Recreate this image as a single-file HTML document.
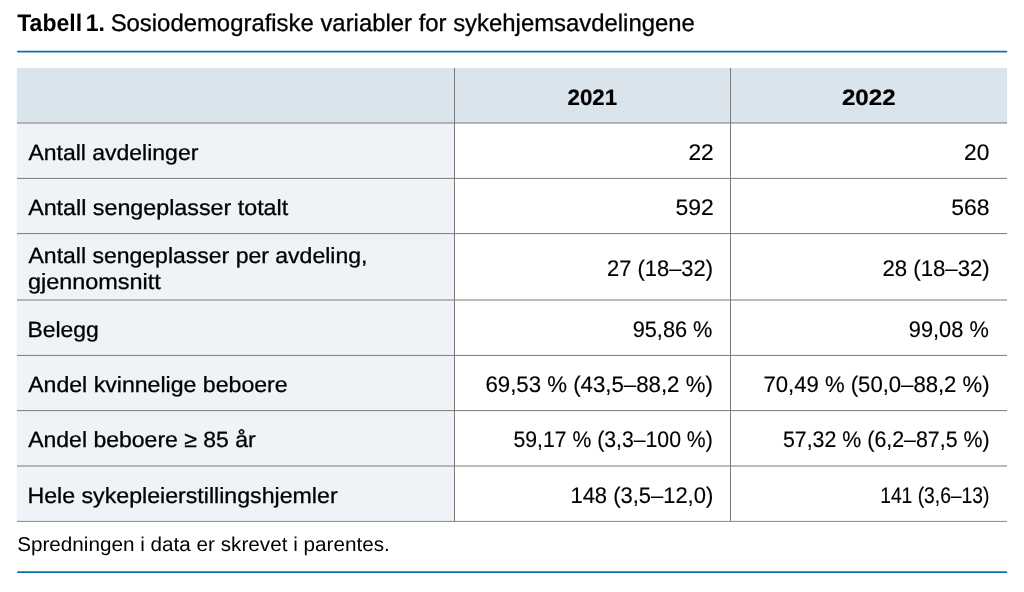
<!DOCTYPE html>
<html lang="no">
<head>
<meta charset="utf-8">
<title>Tabell 1. Sosiodemografiske variabler for sykehjemsavdelingene</title>
<style>
html,body{margin:0;padding:0;background:#fff;}
body{width:1024px;height:592px;position:relative;overflow:hidden;font-family:"Liberation Sans",sans-serif;color:#000;text-rendering:geometricPrecision;}
.grid{position:absolute;left:0;top:0;width:1024px;height:592px;display:block;}
.t{position:absolute;left:0;margin:0;padding:0;white-space:nowrap;line-height:28px;height:28px;transform-origin:0 0;font-weight:400;}
.b{font-weight:700;}
h1{margin:0;padding:0;font-size:0;line-height:0;font-weight:400;}
[role=table],[role=row]{margin:0;padding:0;font-size:0;line-height:0;}

</style>
</head>
<body>
<svg class="grid" aria-hidden="true" width="1024" height="592" viewBox="0 0 1024 592">
<rect x="16.8" y="67.9" width="990.3" height="55.1" fill="#dae4ec"/>
<rect x="16.8" y="123" width="437.7" height="398.4" fill="#eff2f7"/>
<g stroke="#7a7a7a" stroke-width="1" fill="none">
<line x1="17" y1="123" x2="1007" y2="123" stroke-width="1.1" stroke="#737a82"/>
<line x1="17" y1="178.4" x2="1007" y2="178.4"/>
<line x1="17" y1="233.6" x2="1007" y2="233.6"/>
<line x1="17" y1="300" x2="1007" y2="300" stroke-width="1.1"/>
<line x1="17" y1="355.4" x2="1007" y2="355.4"/>
<line x1="17" y1="410.6" x2="1007" y2="410.6"/>
<line x1="17" y1="466" x2="1007" y2="466" stroke-width="1.1"/>
<line x1="17" y1="521.4" x2="1007" y2="521.4" stroke="#888"/>
<line x1="454.5" y1="68" x2="454.5" y2="521.4"/>
<line x1="730.5" y1="68" x2="730.5" y2="521.4"/>
</g>
<g stroke="#0b72b0" stroke-width="1.8" stroke-linecap="round" fill="none">
<line x1="17.9" y1="51.6" x2="1006.4" y2="51.6"/>
<line x1="17.9" y1="572.1" x2="1006.4" y2="572.1"/>
</g>
</svg>
<h1><b class="t b" style="top:10px;font-size:24.0px;word-spacing:-2.72px;transform:translateX(17.22px) scaleX(0.9592)">Tabell 1.</b> <span class="t" style="top:10px;font-size:24.0px;-webkit-text-stroke:0.3px #000;transform:translateX(110.64px) scaleX(0.9953)">Sosiodemografiske variabler for sykehjemsavdelingene</span></h1>
<div role="table" aria-label="Sosiodemografiske variabler for sykehjemsavdelingene">
<div role="row"><span role="columnheader"></span><span role="columnheader" class="t b" style="top:84px;font-size:22.3px;-webkit-text-stroke:0.2px #000;transform:translateX(567.51px) scaleX(1.0006)">2021</span><span role="columnheader" class="t b" style="top:84px;font-size:22.3px;-webkit-text-stroke:0.2px #000;transform:translateX(841.95px) scaleX(1.0801)">2022</span></div>
<div role="row"><span role="rowheader" class="t" style="top:139px;font-size:22.0px;-webkit-text-stroke:0.3px #000;transform:translateX(28.39px) scaleX(1.0448)">Antall avdelinger</span><span role="cell" class="t" style="top:139px;font-size:22.6px;-webkit-text-stroke:0.15px #000;transform:translateX(688.40px) scaleX(1.0054)">22</span><span role="cell" class="t" style="top:139px;font-size:22.6px;-webkit-text-stroke:0.15px #000;transform:translateX(964.05px) scaleX(1.0042)">20</span></div>
<div role="row"><span role="rowheader" class="t" style="top:194px;font-size:22.0px;-webkit-text-stroke:0.3px #000;transform:translateX(28.13px) scaleX(1.0580)">Antall sengeplasser totalt</span><span role="cell" class="t" style="top:194px;font-size:22.6px;-webkit-text-stroke:0.15px #000;transform:translateX(675.46px) scaleX(1.0135)">592</span><span role="cell" class="t" style="top:194px;font-size:22.6px;-webkit-text-stroke:0.15px #000;transform:translateX(951.19px) scaleX(1.0133)">568</span></div>
<div role="row"><span role="rowheader"><span class="t" style="top:242px;font-size:22.0px;-webkit-text-stroke:0.3px #000;transform:translateX(28.51px) scaleX(1.0456)">Antall sengeplasser per avdeling,</span> <span class="t" style="top:268px;font-size:22.0px;-webkit-text-stroke:0.3px #000;transform:translateX(27.94px) scaleX(1.0652)">gjennomsnitt</span></span><span role="cell" class="t" style="top:255px;font-size:22.6px;-webkit-text-stroke:0.15px #000;transform:translateX(607.11px) scaleX(0.9684)">27 (18–32)</span><span role="cell" class="t" style="top:255px;font-size:22.6px;-webkit-text-stroke:0.15px #000;transform:translateX(882.47px) scaleX(0.9816)">28 (18–32)</span></div>
<div role="row"><span role="rowheader" class="t" style="top:316px;font-size:22.0px;-webkit-text-stroke:0.3px #000;transform:translateX(27.42px) scaleX(1.0410)">Belegg</span><span role="cell" class="t" style="top:316px;font-size:22.6px;-webkit-text-stroke:0.15px #000;transform:translateX(632.67px) scaleX(0.9623)">95,86 %</span><span role="cell" class="t" style="top:316px;font-size:22.6px;-webkit-text-stroke:0.15px #000;transform:translateX(908.87px) scaleX(0.9632)">99,08 %</span></div>
<div role="row"><span role="rowheader" class="t" style="top:371px;font-size:22.0px;-webkit-text-stroke:0.3px #000;transform:translateX(28.14px) scaleX(1.0504)">Andel kvinnelige beboere</span><span role="cell" class="t" style="top:371px;font-size:22.6px;-webkit-text-stroke:0.15px #000;transform:translateX(485.41px) scaleX(0.9840)">69,53 % (43,5–88,2 %)</span><span role="cell" class="t" style="top:371px;font-size:22.6px;-webkit-text-stroke:0.15px #000;transform:translateX(763.51px) scaleX(0.9781)">70,49 % (50,0–88,2 %)</span></div>
<div role="row"><span role="rowheader" class="t" style="top:426px;font-size:22.0px;-webkit-text-stroke:0.3px #000;transform:translateX(28.18px) scaleX(1.0458)">Andel beboere ≥ 85 år</span><span role="cell" class="t" style="top:426px;font-size:22.6px;-webkit-text-stroke:0.15px #000;transform:translateX(513.46px) scaleX(0.9389)">59,17 % (3,3–100 %)</span><span role="cell" class="t" style="top:426px;font-size:22.6px;-webkit-text-stroke:0.15px #000;transform:translateX(782.92px) scaleX(0.9457)">57,32 % (6,2–87,5 %)</span></div>
<div role="row"><span role="rowheader" class="t" style="top:482px;font-size:22.0px;-webkit-text-stroke:0.3px #000;transform:translateX(27.48px) scaleX(1.0524)">Hele sykepleierstillingshjemler</span><span role="cell" class="t" style="top:482px;font-size:22.6px;-webkit-text-stroke:0.15px #000;transform:translateX(570.45px) scaleX(0.9712)">148 (3,5–12,0)</span><span role="cell" class="t" style="top:482px;font-size:22.6px;-webkit-text-stroke:0.15px #000;transform:translateX(880.22px) scaleX(0.8517)">141 (3,6–13)</span></div>
</div>
<p class="t" style="top:531px;font-size:20.0px;transform:translateX(17.14px) scaleX(1.0344)">Spredningen i data er skrevet i parentes.</p>
</body>
</html>
